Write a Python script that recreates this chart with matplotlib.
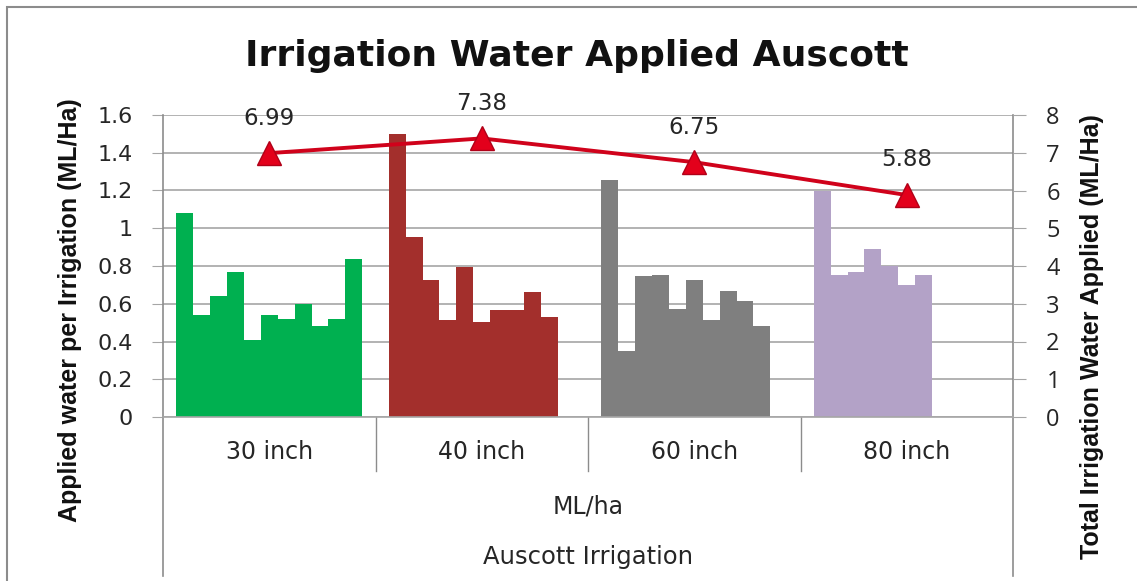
import numpy as np
import matplotlib
matplotlib.use("Agg")
import matplotlib.pyplot as plt
from matplotlib.patches import Rectangle

categories = ["30 inch", "40 inch", "60 inch", "80 inch"]
per_irrigation = [
    [1.08, 0.54, 0.64, 0.77, 0.41, 0.54, 0.52, 0.60, 0.48, 0.52, 0.835],
    [1.50, 0.955, 0.725, 0.515, 0.795, 0.505, 0.565, 0.565, 0.66, 0.53],
    [1.255, 0.35, 0.745, 0.75, 0.57, 0.725, 0.515, 0.665, 0.615, 0.48],
    [1.20, 0.75, 0.77, 0.89, 0.80, 0.70, 0.75],
]
totals = [6.99, 7.38, 6.75, 5.88]
bar_colors = ["#00B050", "#A32F2C", "#7F7F7F", "#B3A2C7"]

n_slots = 11
gap = 0.0624
slot_w = (1 - 2 * gap) / n_slots

fig = plt.figure(figsize=(11.37, 5.81), dpi=100)
ax = fig.add_axes([163 / 1137, 164 / 581, 850 / 1137, 302 / 581])
ax2 = ax.twinx()

grid_c = "#A6A6A6"
txt_c = "#262626"
for i, vals in enumerate(per_irrigation):
    x = i - 0.5 + gap + slot_w * (np.arange(len(vals)) + 0.5)
    ax.bar(x, vals, width=slot_w, color=bar_colors[i], linewidth=0, zorder=2)

ax.set_xlim(-0.5, 3.5)
ax.set_ylim(0, 1.6)
ax.set_yticks(np.arange(0, 1.61, 0.2))
ax.set_yticklabels(["0", "0.2", "0.4", "0.6", "0.8", "1", "1.2", "1.4", "1.6"],
                   fontfamily="DejaVu Sans", fontsize=16, color=txt_c)
ax.yaxis.grid(True, color=grid_c, linewidth=1.2, zorder=0)
ax.set_axisbelow(True)
ax.tick_params(axis="y", direction="out", length=8, color=grid_c, pad=14)
ax.set_xticks([])

ax2.set_ylim(0, 8)
ax2.set_yticks(range(0, 9))
ax2.set_yticklabels([str(v) for v in range(9)], fontfamily="Open Sans",
                    fontsize=17, color=txt_c)
ax2.tick_params(axis="y", direction="out", length=9, color=grid_c, pad=15)
ax2.plot(range(4), totals, color="#D0021B", linewidth=2.8, marker="^",
         markersize=17, markerfacecolor="#E3001B", markeredgecolor="#B00018",
         zorder=5)
for i, v in enumerate(totals):
    ax2.annotate(f"{v:.2f}", (i, v), xytext=(0, 17), textcoords="offset points",
                 ha="center", va="bottom", fontsize=16.5, fontfamily="DejaVu Sans",
                 color=txt_c)

for a in (ax, ax2):
    for s in a.spines.values():
        s.set_visible(False)

# axis lines extending below into the category label area
tr = ax.get_xaxis_transform()
ax.plot([-0.5, 3.5], [0, 0], color=grid_c, linewidth=1.2, transform=tr,
        clip_on=False, zorder=3)
for xb in [-0.5, 3.5]:
    ax.plot([xb, xb], [1, -0.525], color="#8C8C8C", linewidth=1.2, transform=tr,
            clip_on=False)
for xb in [0.5, 1.5, 2.5]:
    ax.plot([xb, xb], [0, -0.18], color="#8C8C8C", linewidth=1.0, transform=tr,
            clip_on=False)
for i, c in enumerate(categories):
    ax.text(i, -0.115, c, transform=tr, ha="center", va="center", fontsize=17,
            fontfamily="DejaVu Sans", color=txt_c)
ax.text(1.5, -0.295, "ML/ha", transform=tr, ha="center", va="center",
        fontsize=17, fontfamily="DejaVu Sans", color=txt_c)
ax.text(1.5, -0.465, "Auscott Irrigation", transform=tr, ha="center",
        va="center", fontsize=17.5, fontfamily="DejaVu Sans", color=txt_c)

fig.text(577 / 1137, 1 - 56 / 581, "Irrigation Water Applied Auscott",
         ha="center", va="center", fontsize=26, fontweight="bold",
         fontfamily="DejaVu Sans", color="#111111")
fig.text(70 / 1137, 1 - 310 / 581, "Applied water per Irrigation (ML/Ha)",
         rotation=90, ha="center", va="center", fontsize=18, fontweight="bold",
         fontfamily="Liberation Sans", color="#111111")
fig.text(1092 / 1137, 1 - 337 / 581, "Total Irrigation Water Applied (ML/Ha)",
         rotation=90, ha="center", va="center", fontsize=18, fontweight="bold",
         fontfamily="Liberation Sans", color="#111111")

fig.patches.append(Rectangle((7 / 1137, -0.01), 1.2, 1 - 7 / 581 + 0.01,
                             transform=fig.transFigure, fill=False,
                             edgecolor="#8C8C8C", linewidth=1.5))

fig.savefig("out.png", dpi=100)
